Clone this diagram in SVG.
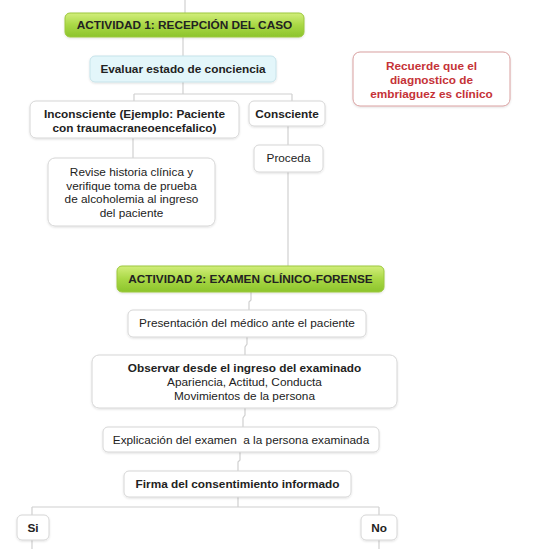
<svg xmlns="http://www.w3.org/2000/svg" width="554" height="549" viewBox="0 0 554 549">
<defs>
<linearGradient id="green" x1="0" y1="0" x2="0" y2="1">
<stop offset="0" stop-color="#d2ee7c"/>
<stop offset="0.5" stop-color="#a9d845"/>
<stop offset="1" stop-color="#8cc42c"/>
</linearGradient>
<filter id="sh" x="-10%" y="-20%" width="120%" height="150%">
<feDropShadow dx="0" dy="1" stdDeviation="1" flood-color="#000" flood-opacity="0.12"/>
</filter>
</defs>
<style>
text{font-family:"Liberation Sans",Arial,sans-serif;fill:#222;text-anchor:middle;dominant-baseline:central}
.box{fill:#fff;stroke:#d6d6d6;stroke-width:1;filter:url(#sh)}
.act{fill:url(#green);stroke:#9cc83c;stroke-width:1;filter:url(#sh)}
.b{font-weight:bold}
.t{font-size:11.8px}
.red{fill:#c53237}
.conn{fill:none;stroke:#d0d0d0;stroke-width:1.2}
</style>
<rect width="554" height="549" fill="#fff"/>
<g id="connectors">
<path class="conn" d="M185 0V13"/>
<path class="conn" d="M183 37V56"/>
<path class="conn" d="M183 82V94M134 94H292M134 94V101M292 94V101"/>
<path class="conn" d="M133 138V158"/>
<path class="conn" d="M288 126V145"/>
<path class="conn" d="M288 172V266"/>
<path class="conn" d="M251 292V300L249 302V310"/>
<path class="conn" d="M247 337V344L245 347V355"/>
<path class="conn" d="M245 408V415L243 418V427"/>
<path class="conn" d="M240 452V460L238 462V471"/>
<path class="conn" d="M238 497V507M32 507H379M32 507V515M379 507V515M32 540V549M379 540V549"/>
</g>
<g id="actividad1">
<rect class="act" x="65" y="13" width="239" height="24" rx="5"/>
<text class="b t" x="184.5" y="25">ACTIVIDAD 1: RECEPCIÓN DEL CASO</text>
</g>
<g id="evaluar">
<rect x="90" y="56" width="186" height="26" rx="5" fill="#e3f6fa" stroke="#c6e3ea" filter="url(#sh)"/>
<text class="b t" x="183" y="69">Evaluar estado de conciencia</text>
</g>
<g id="recuerde">
<rect x="353" y="52" width="157" height="54" rx="7" fill="#fff" stroke="#d9a0a0" filter="url(#sh)"/>
<text class="b t red" x="431.5" y="66">Recuerde que el</text>
<text class="b t red" x="431.5" y="80">diagnostico de</text>
<text class="b t red" x="431.5" y="94">embriaguez es clínico</text>
</g>
<g id="inconsciente">
<rect class="box" x="30" y="101" width="209" height="37" rx="6"/>
<text class="b t" x="134.5" y="114">Inconsciente (Ejemplo: Paciente</text>
<text class="b t" x="134.5" y="128">con traumacraneoencefalico)</text>
</g>
<g id="consciente">
<rect class="box" x="249" y="101" width="76" height="25" rx="5"/>
<text class="b t" x="287" y="114">Consciente</text>
</g>
<g id="revise">
<rect class="box" x="48" y="158" width="167" height="68" rx="7"/>
<text class="t" x="131.5" y="172">Revise historia clínica y</text>
<text class="t" x="131.5" y="186">verifique toma de prueba</text>
<text class="t" x="131.5" y="199">de alcoholemia al ingreso</text>
<text class="t" x="131.5" y="213">del paciente</text>
</g>
<g id="proceda">
<rect class="box" x="254" y="145" width="69" height="27" rx="5"/>
<text class="t" x="288.5" y="158">Proceda</text>
</g>
<g id="actividad2">
<rect class="act" x="117" y="266" width="267" height="26" rx="5"/>
<text class="b t" x="250.5" y="279">ACTIVIDAD 2: EXAMEN CLÍNICO-FORENSE</text>
</g>
<g id="presentacion">
<rect class="box" x="128" y="310" width="238" height="27" rx="5"/>
<text class="t" x="247" y="323">Presentación del médico ante el paciente</text>
</g>
<g id="observar">
<rect class="box" x="92" y="355" width="305" height="53" rx="7"/>
<text class="b t" x="244.5" y="368">Observar desde el ingreso del examinado</text>
<text class="t" x="244.5" y="382">Apariencia, Actitud, Conducta</text>
<text class="t" x="244.5" y="396">Movimientos de la persona</text>
</g>
<g id="explicacion">
<rect class="box" x="103" y="427" width="276" height="25" rx="5"/>
<text class="t" x="241" y="439.5" xml:space="preserve">Explicación del examen  a la persona examinada</text>
</g>
<g id="firma">
<rect class="box" x="124" y="471" width="227" height="26" rx="5"/>
<text class="b t" x="237.5" y="484">Firma del consentimiento informado</text>
</g>
<g id="si">
<rect class="box" x="17" y="515" width="32" height="25" rx="5"/>
<text class="b t" x="33" y="528">Si</text>
</g>
<g id="no">
<rect class="box" x="361" y="515" width="36" height="25" rx="5"/>
<text class="b t" x="379" y="528">No</text>
</g>
</svg>
